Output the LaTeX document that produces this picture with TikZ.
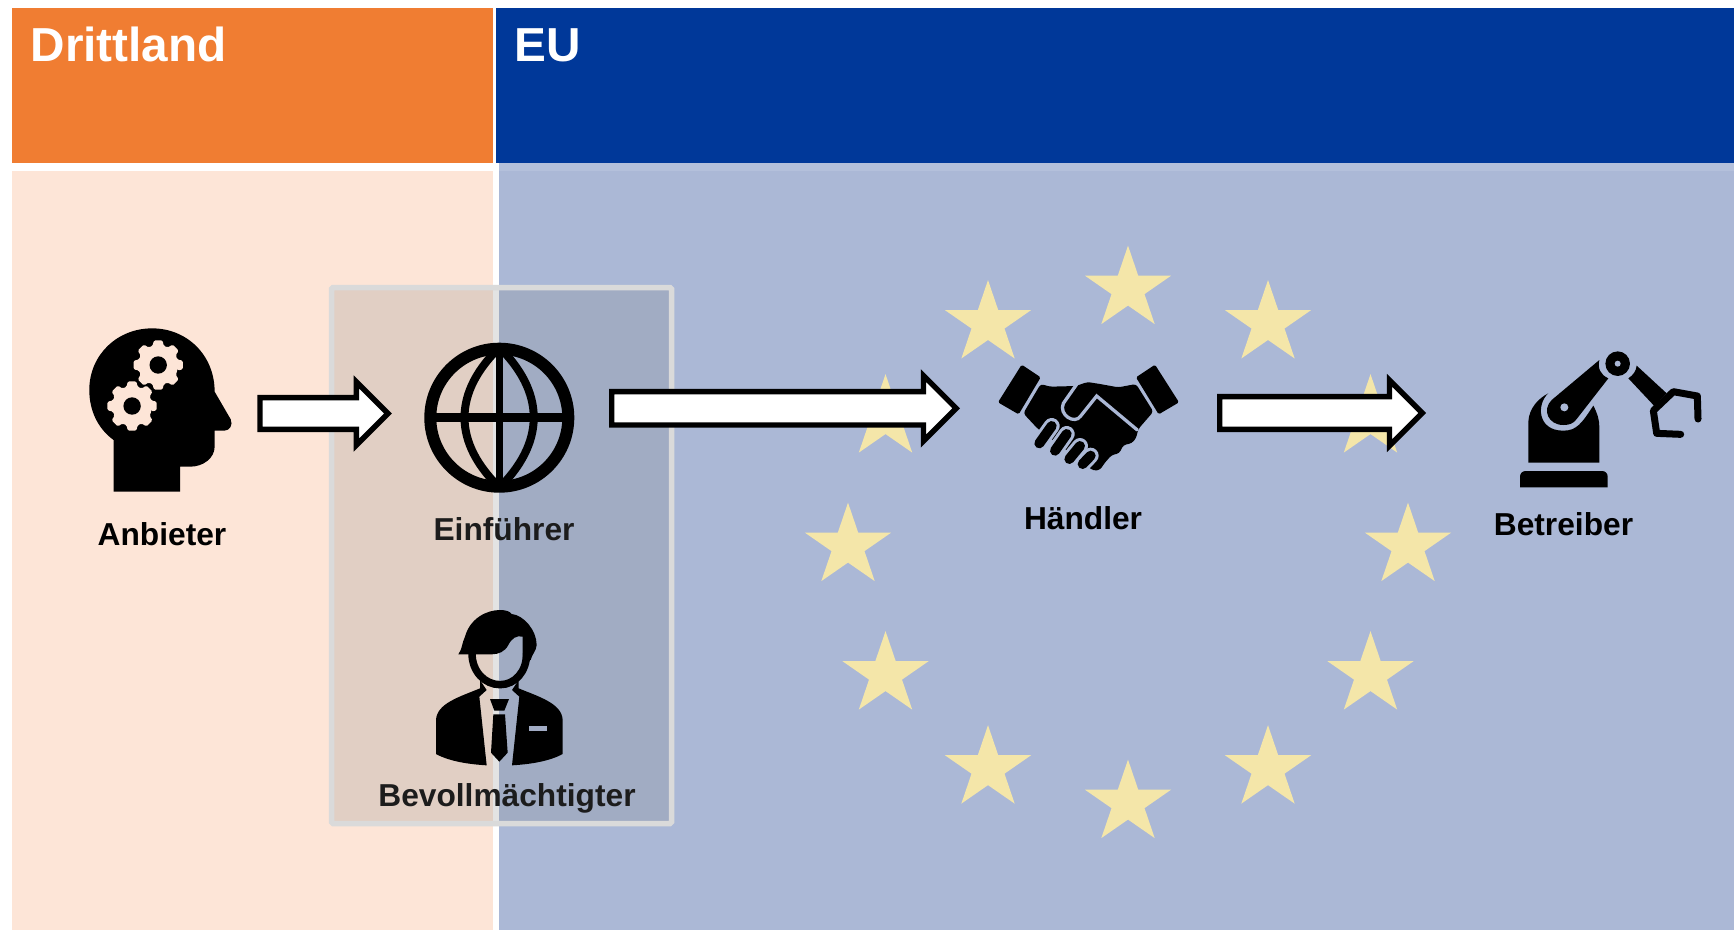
\documentclass[tikz,border=0pt]{standalone}
\usepackage{fontspec}
\setmainfont{Liberation Sans}
\usetikzlibrary{shapes.geometric,shapes.arrows}
\definecolor{orangeD}{HTML}{F07D32}
\definecolor{blueD}{HTML}{003899}
\definecolor{orangeL}{HTML}{FDE5D7}
\definecolor{blueL}{HTML}{ABB8D6}
\definecolor{blueB}{HTML}{B4C0DB}
\definecolor{starC}{HTML}{F4E6A9}
\definecolor{boxFill}{HTML}{828282}
\definecolor{boxLine}{HTML}{DADADA}
\definecolor{boxBlue}{HTML}{A2ACC5}
\tikzset{
  headlabel/.style={anchor=base west,inner sep=0pt,text=white,font=\fontsize{47.7}{50}\selectfont\bfseries},
  rolelabel/.style={anchor=base,inner sep=0pt,text=black,font=\fontsize{31.7}{36}\selectfont\bfseries},
  eustar/.style={star,star points=5,star point ratio=2.618,fill=starC,minimum size=90.8pt,inner sep=0pt,outer sep=0pt,transform shape},
  blockarrow/.style={single arrow,draw=black,fill=white,line width=5.4pt,single arrow tip angle=90,
    single arrow head indent=0pt,inner sep=0pt,outer sep=0pt,anchor=tail},
  icon/.style={fill=black,draw=none}
}
\newcommand{\geardraw}[2]{%
  \begin{scope}[shift={(#1,#2)},x=1pt,y=1pt]
    \fill[orangeL,rounded corners=1.4pt] (-16:20)
      \foreach \a in {0,45,...,315}{ -- (\a-16:20) -- (\a-10:25) -- (\a+10:25) -- (\a+16:20)} -- cycle;
    \fill[black] (0,0) circle [radius=8.7pt];
  \end{scope}}
\begin{document}
\begin{tikzpicture}[x=1pt,y=-1pt]
\useasboundingbox (0,0) rectangle (1734,930);
\fill[white] (0,0) rectangle (1734,930);
% panels
\fill[orangeD] (12,8) rectangle (493,163);
\fill[blueD] (496,8) rectangle (1734,163);
\fill[orangeL] (12,171) rectangle (493,930);
\fill[blueB] (499,163) rectangle (1734,171);
\fill[blueL] (499,171) rectangle (1734,930);
\node[headlabel] (drittland) at (30.5,61.5) {Drittland};
\node[headlabel] (eu) at (514.5,61.5) {EU};
% stars
\foreach \i in {0,...,11}{
  \begin{scope}[shift={({1128+280*sin(30*\i)},{546-257*cos(30*\i)})},yscale=.955]
    \node[eustar] (star\i) at (0,0) {};
  \end{scope}
}
% labels beneath the grey box
\node[rolelabel] (einfuehrer) at (504,540.7) {Einführer};
\node[rolelabel] (bevollm) at (507,806) {Bevollmächtigter};
% grey box
\draw[draw=boxLine,line width=5.5pt,fill=boxFill,fill opacity=.22,rounded corners=1.5pt] (331.5,287.5) rectangle (671.5,823.5);
% remaining labels
\node[rolelabel] (anbieter) at (162,545) {Anbieter};
\node[rolelabel] (haendler) at (1083,529) {Händler};
\node[rolelabel] (betreiber) at (1563.5,535) {Betreiber};
% head icon
\begin{scope}[shift={(60,300)},x=.35714pt,y=-.33333pt]
  \fill[icon] (150,575) -- (150,420) .. controls (105,385) and (82,330) .. (82,270)
    .. controls (82,165) and (160,85) .. (258,85) .. controls (355,85) and (433,165) .. (433,275)
    -- (478,358) .. controls (485,375) and (475,392) .. (460,392) -- (433,392) -- (433,440)
    .. controls (433,475) and (400,500) .. (365,500) -- (336,500) -- (336,575) -- cycle;
\end{scope}
\geardraw{158.2}{365}
\geardraw{132.1}{406}
% globe icon
\begin{scope}
  \draw[black,line width=12pt] (499.3,417.7) circle [radius=69pt];
  \draw[black,line width=9pt] (430,417.7) -- (569,417.7);
  \draw[black,line width=7.5pt] (499.3,345) -- (499.3,490);
  \clip (499.3,417.7) circle [radius=72pt];
  \draw[black,line width=8pt] (502,345) .. controls (452,392) and (452,443) .. (502,490);
  \draw[black,line width=8pt] (497,345) .. controls (546,392) and (546,443) .. (497,490);
\end{scope}
% person icon
\begin{scope}[shift={(320,580)},x=.33333pt,y=-.33333pt]
  \fill[icon] (415,223) .. controls (428,205) and (425,190) .. (435,170) .. controls (450,115) and (500,90) .. (540,90)
    .. controls (560,90) and (570,95) .. (575,102) .. controls (610,105) and (650,150) .. (650,195)
    .. controls (650,210) and (635,225) .. (632,240) -- (608,240) -- (608,170)
    .. controls (590,165) and (575,175) .. (565,195) .. controls (555,215) and (535,223) .. (515,223) -- cycle;
  \draw[black,line width=7.5pt] (456,220) .. controls (456,275) and (495,314) .. (540,314) .. controls (585,314) and (620,275) .. (620,220);
  \fill[icon] (480,300) -- (480,325) .. controls (420,350) and (350,370) .. (348,420) -- (348,522)
    .. controls (390,545) and (450,553) .. (500,556) -- (478,350) -- (500,330) -- cycle;
  \fill[icon] (596,300) -- (596,325) .. controls (656,350) and (726,370) .. (728,420) -- (728,522)
    .. controls (686,545) and (626,553) .. (576,556) -- (598,350) -- (576,330) -- cycle;
  \fill[icon] (510,357) -- (567,357) -- (553,392) -- (523,392) -- cycle;
  \fill[icon] (520,403) -- (555,403) -- (563,518) -- (538,545) -- (513,518) -- cycle;
  \fill[boxBlue] (627,438) rectangle (681,452);
\end{scope}
% handshake icon
\begin{scope}[shift={(1000,360)},x=.33333pt,y=-.33333pt]
  \fill[icon,rounded corners=1.5pt] (65,14) -- (122,52) -- (56,163) -- (-6,127) -- cycle;
  \fill[icon,rounded corners=1.5pt] (465,14) -- (408,52) -- (476,163) -- (537,127) -- cycle;
  \fill[icon,rounded corners=3pt] (122,72) -- (150,80) -- (228,78) -- (262,66) -- (300,72) -- (355,82) -- (408,72)
    -- (460,155) -- (415,207) -- (408,235) -- (395,250) -- (370,255) -- (358,280) -- (335,285)
    -- (313,310) -- (300,330) -- (280,332) -- (112,205) -- (70,160) -- cycle;
  \draw[blueL,line width=3.3pt,line cap=round] (232,70) -- (190,130) .. controls (175,165) and (225,195) .. (242,168)
    -- (290,108) -- (412,210);
  \foreach \xa/\ya/\xb/\yb in {155/198/118/250,200/222/165/272,240/258/208/297,272/287/248/312}{
    \draw[blueL,line width=16pt,line cap=round] (\xa,\ya) -- (\xb,\yb);
  }
  \foreach \xa/\ya/\xb/\yb in {155/198/118/250,200/222/165/272,240/258/208/297,272/287/248/312}{
    \draw[black,line width=10pt,line cap=round] (\xa,\ya) -- (\xb,\yb);
  }
\end{scope}
% robot icon
\begin{scope}[shift={(1510,345)},x=.33333pt,y=-.33333pt]
  \fill[icon] (30,427) -- (30,395) .. controls (30,385) and (37,378) .. (47,378) -- (276,378)
    .. controls (286,378) and (293,385) .. (293,395) -- (293,427) -- cycle;
  \fill[icon] (55,353) -- (55,230) .. controls (57,190) and (85,160) .. (115,145)
    .. controls (80,175) and (80,257) .. (160,257) .. controls (200,257) and (215,235) .. (250,182)
    .. controls (262,205) and (268,225) .. (268,245) -- (268,353) -- cycle;
  \fill[icon] (268,45) -- (125,165) .. controls (95,195) and (115,240) .. (160,240) .. controls (180,240) and (190,235) .. (200,222)
    -- (295,100) .. controls (272,90) and (262,70) .. (268,45) -- cycle;
  \fill[blueL] (163,187) circle [radius=4pt];
  \fill[icon] (323,56) circle [radius=12.3pt];
  \fill[blueL] (323,56) circle [radius=3pt];
  \fill[icon] (380,62) -- (470,145) -- (432,182) -- (355,100) .. controls (370,90) and (378,78) .. (380,62) -- cycle;
  \draw[black,line width=7pt,line cap=round,line join=round] (564,222) -- (562,153) -- (490,140) -- (430,197) -- (440,265) -- (512,268);
\end{scope}
% block arrows
\node[blockarrow,minimum height=128pt,minimum width=58pt,inner ysep=13.2pt,single arrow head extend=15.8pt] (arrowA) at (260,413.5) {};
\node[blockarrow,minimum height=344.5pt,minimum width=60pt,inner ysep=14pt,single arrow head extend=16pt] (arrowB) at (611.7,408.3) {};
\node[blockarrow,minimum height=202.5pt,minimum width=60pt,inner ysep=13.7pt,single arrow head extend=16.3pt] (arrowC) at (1219.7,413) {};
\end{tikzpicture}
\end{document}
